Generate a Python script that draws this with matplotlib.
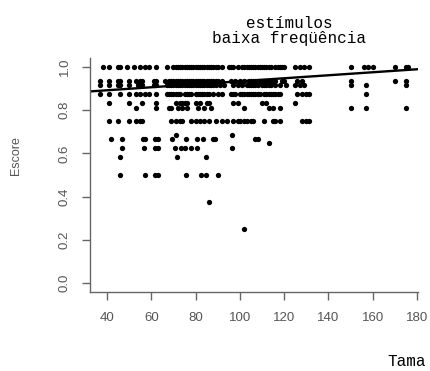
import matplotlib
matplotlib.use("Agg")
import matplotlib.pyplot as plt
import numpy as np

# ---- data: sizes (Tamanho) grouped by score (Escore) ----
score_levels = [1.0, 0.9375, 0.9167, 0.875, 0.8333, 0.8125, 0.75,
                0.6875, 0.6667, 0.65, 0.625, 0.5833, 0.5, 0.375, 0.25]

size_s1000 = [38, 41, 45, 46, 49, 52, 55, 57, 59, 62, 67, 70, 71, 72, 73, 74, 75,
              76, 77, 78, 79, 80, 81, 82, 83, 84, 85, 86, 87, 88, 89, 90, 92, 95,
              96, 97, 99, 101, 102, 103, 104, 105, 106, 107, 108, 109, 110, 111,
              112, 113, 114, 116, 117, 118, 119, 120, 125, 127, 129, 131, 150,
              156, 158, 160, 170, 175, 176]
size_s0938 = [37, 41, 45, 46, 50, 53, 55, 56, 61, 62, 66, 68, 69, 70, 71, 72, 73,
              74, 75, 76, 77, 78, 79, 80, 81, 82, 83, 84, 85, 86, 87, 88, 89, 90,
              92, 96, 98, 100, 102, 104, 105, 106, 107, 108, 109, 110, 111, 112,
              113, 114, 115, 116, 119, 120, 126, 128, 150, 170, 175]
size_s0917 = [37, 41, 45, 46, 50, 54, 56, 61, 62, 67, 68, 69, 70, 71, 72, 73, 74,
              75, 76, 77, 78, 79, 80, 81, 82, 83, 84, 85, 86, 87, 88, 89, 91, 93,
              97, 99, 101, 103, 104, 105, 106, 107, 108, 110, 111, 112, 113, 114,
              116, 118, 121, 125, 127, 129, 150, 157, 175]
size_s0875 = [37, 41, 46, 50, 53, 55, 57, 59, 62, 67, 68, 69, 70, 71, 72, 73, 75,
              76, 77, 78, 80, 81, 82, 83, 84, 85, 86, 88, 90, 92, 96, 97, 98, 100,
              101, 102, 103, 104, 105, 106, 107, 108, 109, 111, 112, 113, 114,
              115, 116, 117, 118, 126, 128, 130, 131, 157]
size_s0833 = [41, 50, 56, 62, 71, 73, 74, 75, 76, 80, 82, 85, 86, 97, 99, 110,
              112, 125]
size_s0813 = [53, 62, 68, 69, 72, 74, 76, 81, 84, 87, 102, 113, 115, 118, 150,
              157, 175]
size_s0750 = [41, 45, 50, 53, 55, 56, 69, 71, 73, 74, 78, 80, 82, 84, 86, 89, 92,
              94, 97, 99, 100, 102, 103, 105, 106, 111, 115, 116, 118, 128, 130,
              131]
size_s0688 = [71, 96.5]
size_s0667 = [41.7, 46.8, 56.3, 57.3, 61.5, 63, 69.5, 75.8, 80.8, 83.4, 87.9,
              88.9, 106.7, 108]
size_s0650 = [113]
size_s0625 = [46.8, 56.7, 61.5, 63, 70.9, 73.6, 75.1, 78.1, 80.8, 96.5]
size_s0583 = [45.7, 71.8, 84.6]
size_s0500 = [45.7, 57, 61.5, 63, 75.8, 82.6, 84.8, 90.1]
size_s0375 = [86.1]
size_s0250 = [101.9]

sizes_by_level = [size_s1000, size_s0938, size_s0917, size_s0875, size_s0833,
                  size_s0813, size_s0750, size_s0688, size_s0667, size_s0650,
                  size_s0625, size_s0583, size_s0500, size_s0375, size_s0250]

# fitted regression line
fit_intercept = 0.8646
fit_slope = 0.000695

x_ticks = [40, 60, 80, 100, 120, 140, 160, 180]
y_ticks = [0.0, 0.2, 0.4, 0.6, 0.8, 1.0]
y_tick_labels = ["0.0", "0.2", "0.4", "0.6", "0.8", "1.0"]

title_line1 = "estímulos"
title_line2 = "baixa freqüência"
x_label = "Tama"   # the reference shows only this part (cut at the edge)
y_label = "Escore"

# ---- build arrays ----
xs = np.concatenate([np.asarray(s, float) for s in sizes_by_level])
ys = np.concatenate([np.full(len(s), lv) for s, lv in zip(sizes_by_level, score_levels)])

W, H = 430, 371
fig = plt.figure(figsize=(W / 100, H / 100), dpi=100)
fig.patch.set_facecolor("white")

left_px, right_px, top_px, bottom_px = 90, 418, 58.4, 291.6
ax = fig.add_axes([left_px / W, 1 - bottom_px / H,
                   (right_px - left_px) / W, (bottom_px - top_px) / H])

ax.plot(xs, ys, "o", color="black", markersize=3.8, markeredgewidth=0)
ax.axline((0, fit_intercept), slope=fit_slope, color="black", lw=1.7)

ax.set_xlim(32.3, 180.45)
ax.set_ylim(-0.04, 1.04)

axis_col = "#666666"
for side in ["top", "right"]:
    ax.spines[side].set_visible(False)
for side in ["left", "bottom"]:
    ax.spines[side].set_color(axis_col)
    ax.spines[side].set_linewidth(1.0)

ax.set_xticks(x_ticks)
ax.set_yticks(y_ticks)
ax.set_yticklabels(y_tick_labels)
for lab in ax.get_xticklabels() + ax.get_yticklabels():
    lab.set_fontfamily("Liberation Sans")
    lab.set_fontsize(9.5)
ax.tick_params(axis="both", direction="out", length=5.5, width=1.0,
               color=axis_col, labelcolor="#555555")
ax.tick_params(axis="x", pad=9)
ax.tick_params(axis="y", pad=8.5, labelrotation=90)
for lab in ax.get_yticklabels():
    lab.set_verticalalignment("center")

fig.text(16 / W, 1 - 156 / H, y_label, rotation=90, ha="center", va="center",
         fontsize=9, color="#555555", family="Liberation Sans")

fig.text(289 / W, 1 - 23 / H, title_line1, ha="center", va="center",
         fontsize=11.5, family="Liberation Mono", color="black")
fig.text(289 / W, 1 - 38 / H, title_line2, ha="center", va="center",
         fontsize=11.5, family="Liberation Mono", color="black")

fig.text(387 / W, 1 - 362 / H, x_label, ha="left", va="center",
         fontsize=11.5, family="Liberation Mono", color="black")

fig.savefig("out.png", dpi=100, facecolor="white")
